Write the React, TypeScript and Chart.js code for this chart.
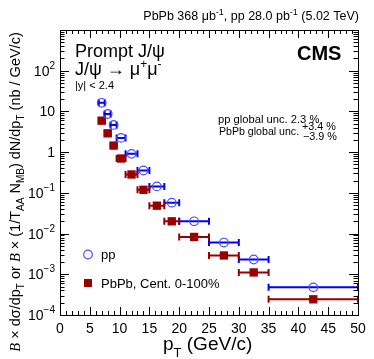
import React, { useEffect, useRef } from "react";
import { Chart, registerables } from "chart.js";

Chart.register(...registerables);

// ---- data ----
const binLow = [6.5, 7.5, 8.5, 9.5, 11, 13, 15, 17.5, 20, 25, 30, 35];
const binHigh = [7.5, 8.5, 9.5, 11, 13, 15, 17.5, 20, 25, 30, 35, 50];
const ptCenter = [7, 8, 9, 10.25, 12, 14, 16.25, 18.75, 22.5, 27.5, 32.5, 42.5];
const ppValues = [16.3, 8.65, 4.65, 2.24, 0.908, 0.354, 0.144, 0.0574, 0.02, 0.00602, 0.00231, 0.000477];
const pbpbValues = [5.93, 2.9, 1.45, 0.697, 0.283, 0.119, 0.0484, 0.02, 0.00826, 0.0029, 0.00111, 0.000243];
const xTickLabels = [0, 5, 10, 15, 20, 25, 30, 35, 40, 45, 50];
const yTickExponents = [-4, -3, -2, -1, 0, 1, 2];

const FONT = '"Liberation Sans", Arial, Helvetica, sans-serif';
const SERIF = '"Liberation Serif", "Times New Roman", serif';
const BLUE = "#0000ff";
const BLUE_MARK = "#4b4bff";
const RED = "#990000";

type Seg = { t: string; size: number; dy?: number; style?: string; family?: string };

function segFont(s: Seg) {
  return `${s.style ?? ""} ${s.size}px ${s.family ?? FONT}`;
}
function richWidth(ctx: CanvasRenderingContext2D, segs: Seg[]) {
  let w = 0;
  for (const s of segs) {
    ctx.font = segFont(s);
    w += ctx.measureText(s.t).width;
  }
  return w;
}
function drawRich(ctx: CanvasRenderingContext2D, segs: Seg[], x: number, y: number, align: "left" | "right" | "center") {
  const w = richWidth(ctx, segs);
  let cx = align === "left" ? x : align === "right" ? x - w : x - w / 2;
  ctx.textBaseline = "alphabetic";
  ctx.textAlign = "left";
  for (const s of segs) {
    ctx.font = segFont(s);
    ctx.fillText(s.t, cx, y + (s.dy ?? 0));
    cx += ctx.measureText(s.t).width;
  }
}

const decorPlugin = {
  id: "rootDecor",
  beforeDatasetsDraw(chart: any) {
    const ctx: CanvasRenderingContext2D = chart.ctx;
    const xs = chart.scales.x;
    const ys = chart.scales.y;
    const series = [
      { vals: ppValues, color: BLUE },
      { vals: pbpbValues, color: RED },
    ];
    ctx.save();
    ctx.lineWidth = 2;
    for (const s of series) {
      ctx.strokeStyle = s.color;
      s.vals.forEach((v, i) => {
        const x1 = xs.getPixelForValue(binLow[i]);
        const x2 = xs.getPixelForValue(binHigh[i]);
        const y = ys.getPixelForValue(v);
        ctx.beginPath();
        ctx.moveTo(x1, y);
        ctx.lineTo(x2, y);
        ctx.moveTo(x1, y - 3.5);
        ctx.lineTo(x1, y + 3.5);
        ctx.moveTo(x2, y - 3.5);
        ctx.lineTo(x2, y + 3.5);
        ctx.stroke();
      });
    }
    ctx.restore();
  },
  afterDatasetsDraw(chart: any) {
    const ctx: CanvasRenderingContext2D = chart.ctx;
    const xs = chart.scales.x;
    const ys = chart.scales.y;
    const { left, right, top, bottom } = chart.chartArea;
    ctx.save();
    ctx.strokeStyle = "#000";
    ctx.fillStyle = "#000";
    ctx.lineWidth = 1;
    // frame
    ctx.strokeRect(Math.round(left) + 0.5, Math.round(top) + 0.5, Math.round(right - left), Math.round(bottom - top));
    // x ticks
    ctx.beginPath();
    for (let v = 0; v <= 50; v++) {
      const px = Math.round(xs.getPixelForValue(v)) + 0.5;
      const len = v % 5 === 0 ? 8 : 4;
      ctx.moveTo(px, bottom);
      ctx.lineTo(px, bottom - len);
      ctx.moveTo(px, top);
      ctx.lineTo(px, top + len);
    }
    // y ticks (log)
    for (let e = -4; e <= 2; e++) {
      for (let k = 1; k <= 9; k++) {
        const v = k * Math.pow(10, e);
        const py = Math.round(ys.getPixelForValue(v)) + 0.5;
        const len = k === 1 ? 9 : 4.5;
        ctx.moveTo(left, py);
        ctx.lineTo(left + len, py);
        ctx.moveTo(right, py);
        ctx.lineTo(right - len, py);
      }
    }
    ctx.stroke();

    // x tick labels
    ctx.font = `14px ${FONT}`;
    ctx.textAlign = "center";
    ctx.textBaseline = "alphabetic";
    for (const t of xTickLabels) {
      ctx.fillText(String(t), xs.getPixelForValue(t), bottom + 17.5);
    }
    // y tick labels
    for (const e of yTickExponents) {
      const py = ys.getPixelForValue(Math.pow(10, e));
      let segs: Seg[];
      if (e === 0) segs = [{ t: "1", size: 14 }];
      else if (e === 1) segs = [{ t: "10", size: 14 }];
      else segs = [{ t: "10", size: 14 }, { t: (e < 0 ? "\u2212" : "") + Math.abs(e), size: 10, dy: -7 }];
      drawRich(ctx, segs, left - 5, py + 5, "right");
    }

    // x title
    drawRich(
      ctx,
      [
        { t: "p", size: 19 },
        { t: "T", size: 13, dy: 7 },
        { t: " (GeV/c)", size: 19 },
      ],
      163,
      350,
      "left"
    );

    // y title (rotated)
    ctx.save();
    ctx.translate(20, 192);
    ctx.rotate(-Math.PI / 2);
    const ySegs: Seg[] = [
      { t: "B", size: 14.5, style: "italic", family: SERIF },
      { t: " \u00d7 d\u03c3/dp", size: 14.5 },
      { t: "T", size: 10, dy: 4 },
      { t: " or ", size: 14.5 },
      { t: "B", size: 14.5, style: "italic", family: SERIF },
      { t: " \u00d7 (1/T", size: 14.5 },
      { t: "AA", size: 10, dy: 4 },
      { t: " N", size: 14.5 },
      { t: "MB", size: 10, dy: 4 },
      { t: ") dN/dp", size: 14.5 },
      { t: "T", size: 10, dy: 4 },
      { t: " (nb / GeV/c)", size: 14.5 },
    ];
    drawRich(ctx, ySegs, 0, 0, "center");
    ctx.restore();

    // top caption
    drawRich(
      ctx,
      [
        { t: "PbPb 368 \u03bcb", size: 12.5 },
        { t: "-1", size: 9, dy: -5 },
        { t: ", pp 28.0 pb", size: 12.5 },
        { t: "-1", size: 9, dy: -5 },
        { t: " (5.02 TeV)", size: 12.5 },
      ],
      359,
      19.5,
      "right"
    );

    // header texts
    drawRich(ctx, [{ t: "Prompt J/\u03c8", size: 18 }], 75, 56.5, "left");
    drawRich(
      ctx,
      [
        { t: "J/\u03c8 \u2192 \u03bc", size: 18 },
        { t: "+", size: 12, dy: -7 },
        { t: "\u03bc", size: 18 },
        { t: "-", size: 12, dy: -7 },
      ],
      75,
      75,
      "left"
    );
    drawRich(ctx, [{ t: "|y| < 2.4", size: 11 }], 75, 89, "left");
    drawRich(ctx, [{ t: "CMS", size: 20, style: "bold" }], 297, 60, "left");

    // global uncertainties
    drawRich(ctx, [{ t: "pp global unc. 2.3 %", size: 11.2 }], 218, 123, "left");
    drawRich(ctx, [{ t: "PbPb global unc.", size: 10.6 }], 219, 134.5, "left");
    drawRich(ctx, [{ t: "+3.4 %", size: 10.8 }], 302, 130, "left");
    drawRich(ctx, [{ t: "\u22123.9 %", size: 10.8 }], 303, 139.5, "left");

    // legend
    ctx.strokeStyle = BLUE_MARK;
    ctx.lineWidth = 1.2;
    ctx.beginPath();
    ctx.arc(88, 254.5, 4.3, 0, Math.PI * 2);
    ctx.stroke();
    ctx.fillStyle = RED;
    ctx.fillRect(84, 279, 8, 8);
    ctx.fillStyle = "#000";
    drawRich(ctx, [{ t: chart.data.datasets[0].label, size: 13 }], 101, 258.5, "left");
    drawRich(ctx, [{ t: chart.data.datasets[1].label, size: 13 }], 101, 287.5, "left");
    ctx.restore();
  },
};

export default function App() {
  const ref = useRef<HTMLCanvasElement | null>(null);
  useEffect(() => {
    if (!ref.current) return;
    const chart = new Chart(ref.current, {
      type: "scatter",
      data: {
        datasets: [
          {
            label: "pp",
            data: ptCenter.map((x, i) => ({ x, y: ppValues[i] })),
            pointStyle: "circle",
            radius: 4.3,
            borderWidth: 1.2,
            borderColor: BLUE_MARK,
            backgroundColor: "rgba(0,0,0,0)",
          },
          {
            label: "PbPb, Cent. 0-100%",
            data: ptCenter.map((x, i) => ({ x, y: pbpbValues[i] })),
            pointStyle: "rect",
            radius: 5.9,
            borderWidth: 0,
            borderColor: RED,
            backgroundColor: RED,
          },
        ],
      },
      options: {
        animation: false,
        responsive: false,
        devicePixelRatio: 1,
        events: [],
        clip: false,
        layout: { padding: { left: 60, right: 16, top: 30, bottom: 44 } },
        plugins: { legend: { display: false }, tooltip: { enabled: false } },
        scales: {
          x: { type: "linear", min: 0, max: 50, display: false },
          y: { type: "logarithmic", min: 1e-4, max: 1e3, display: false },
        },
      },
      plugins: [decorPlugin],
    } as any);
    return () => chart.destroy();
  }, []);
  return (
    <div style={{ position: "fixed", left: 0, top: 0, width: 374, height: 359, background: "#fff" }}>
      <canvas ref={ref} width={374} height={359} style={{ display: "block" }} />
    </div>
  );
}
